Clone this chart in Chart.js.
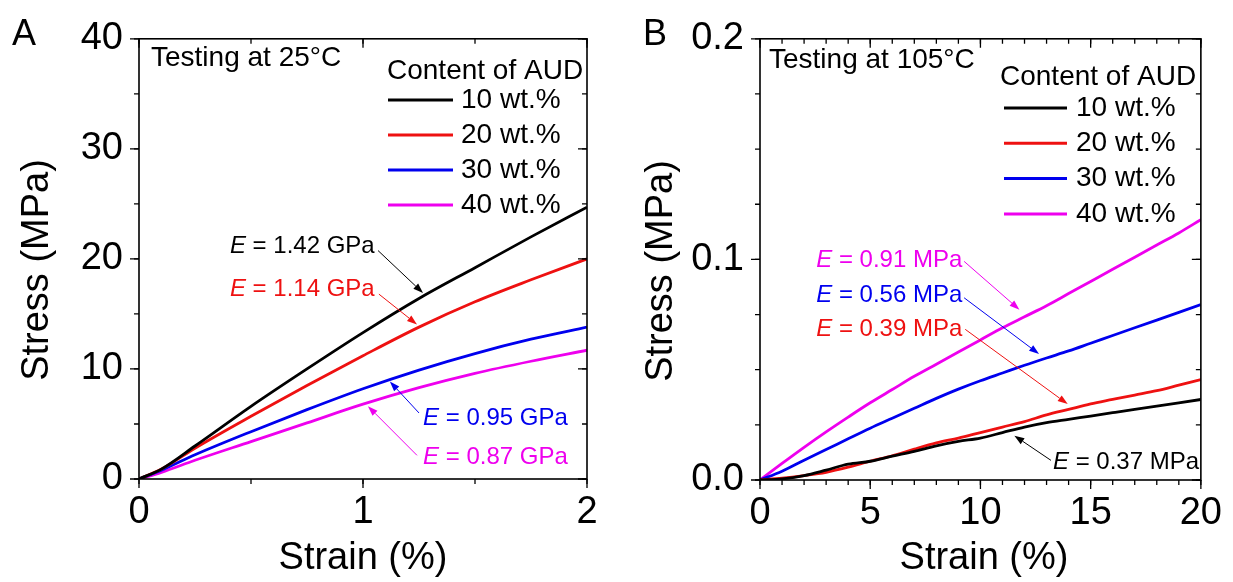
<!DOCTYPE html>
<html>
<head>
<meta charset="utf-8">
<script src="https://cdn.jsdelivr.net/npm/chart.js@4.4.1/dist/chart.umd.min.js"></script>
<style>
html, body { margin: 0; padding: 0; background: #fff; }
#wrap { position: relative; width: 1233px; height: 582px; }
.panel { position: absolute; top: 0; height: 582px; }
</style>
</head>
<body>
<div id="wrap">
  <div class="panel" style="left:0;width:616px"><canvas id="chartA"></canvas></div>
  <div class="panel" style="left:616px;width:617px"><canvas id="chartB"></canvas></div>
</div>
<script>
// ---- data ----
var contentLabels = ["10 wt.%", "20 wt.%", "30 wt.%", "40 wt.%"];
var colors = ["#000000", "#ee1111", "#0000ee", "#ee00ee"];

// panel A, testing at 25 C
var strainA = [0, 0.1, 0.25, 0.5, 0.75, 1.0, 1.25, 1.5, 1.75, 2.0];
var stressA10 = [0, 0.9, 3.0, 6.6, 10.0, 13.3, 16.4, 19.2, 22.0, 24.7];
var stressA20 = [0, 0.9, 2.8, 5.7, 8.5, 11.2, 13.8, 16.1, 18.1, 20.0];
var stressA30 = [0, 0.8, 2.2, 4.3, 6.3, 8.2, 9.9, 11.4, 12.7, 13.8];
var stressA40 = [0, 0.6, 1.7, 3.4, 5.1, 6.8, 8.3, 9.6, 10.7, 11.7];
var modulusA = ["1.42 GPa", "1.14 GPa", "0.95 GPa", "0.87 GPa"];

// panel B, testing at 105 C
var strainB = [0, 1, 2, 3, 4, 5, 6, 7, 8, 9, 10, 11, 12, 13, 14, 15, 16, 17, 18, 19, 20];
var stressB10 = [0, 0.0005, 0.002, 0.0045, 0.0072, 0.0085, 0.0108, 0.013, 0.0155, 0.0175, 0.019, 0.0215, 0.024, 0.026, 0.0275, 0.029, 0.0305, 0.032, 0.0335, 0.035, 0.0365];
var stressB20 = [0, 0.0008, 0.002, 0.0035, 0.0058, 0.0085, 0.011, 0.014, 0.0168, 0.019, 0.0215, 0.024, 0.0265, 0.0295, 0.032, 0.0345, 0.0365, 0.0385, 0.0405, 0.043, 0.0455];
var stressB30 = [0, 0.004, 0.009, 0.0138, 0.0187, 0.0235, 0.028, 0.0325, 0.037, 0.0412, 0.045, 0.0485, 0.052, 0.0553, 0.0585, 0.062, 0.0655, 0.069, 0.0725, 0.076, 0.0795];
var stressB40 = [0, 0.0075, 0.0148, 0.0218, 0.0285, 0.035, 0.041, 0.047, 0.0525, 0.058, 0.0635, 0.069, 0.074, 0.079, 0.0845, 0.090, 0.0955, 0.101, 0.1065, 0.112, 0.118];
var modulusB = ["0.37 MPa", "0.39 MPa", "0.56 MPa", "0.91 MPa"];

var FONT = '"Liberation Sans", Arial, sans-serif';

function makeSets(xs, series) {
  return series.map(function(ys, i) {
    return {
      label: contentLabels[i],
      data: xs.map(function(x, j) { return {x: x, y: ys[j]}; }),
      borderColor: colors[i],
      backgroundColor: colors[i],
      borderWidth: 2.8,
      pointRadius: 0,
      fill: false,
      cubicInterpolationMode: 'monotone'
    };
  });
}

function drawArrow(ctx, x1, y1, x2, y2, color) {
  var a = Math.atan2(y2 - y1, x2 - x1), L = 10, W = 3.5;
  var bx = x2 - L * Math.cos(a), by = y2 - L * Math.sin(a);
  ctx.strokeStyle = color;
  ctx.fillStyle = color;
  ctx.lineWidth = 1;
  ctx.beginPath(); ctx.moveTo(x1, y1); ctx.lineTo(bx, by); ctx.stroke();
  ctx.beginPath();
  ctx.moveTo(x2, y2);
  ctx.lineTo(bx + W * Math.sin(a), by - W * Math.cos(a));
  ctx.lineTo(bx - W * Math.sin(a), by + W * Math.cos(a));
  ctx.closePath();
  ctx.fill();
}

// frame, ticks, legend, labels and arrows
var decoPlugin = {
  id: 'deco',
  afterDraw: function(chart, args, o) {
    var ctx = chart.ctx, ca = chart.chartArea;
    var sx = chart.scales.x, sy = chart.scales.y;
    ctx.save();

    // ticks
    ctx.strokeStyle = '#000';
    ctx.lineWidth = 1.3;
    function tickSet(scale, step, len, horiz) {
      for (var v = scale.min; v <= scale.max + step / 1000; v += step) {
        var p = scale.getPixelForValue(v);
        ctx.beginPath();
        if (horiz) {
          ctx.moveTo(p, ca.bottom); ctx.lineTo(p, ca.bottom + len);
          ctx.moveTo(p, ca.top); ctx.lineTo(p, ca.top + len);
        } else {
          ctx.moveTo(ca.left, p); ctx.lineTo(ca.left - len, p);
          ctx.moveTo(ca.right, p); ctx.lineTo(ca.right - len, p);
        }
        ctx.stroke();
      }
    }
    tickSet(sx, o.xMinor, 5, true);
    tickSet(sx, o.xMajor, 9, true);
    tickSet(sy, o.yMinor, 5, false);
    tickSet(sy, o.yMajor, 9, false);

    // frame
    ctx.lineWidth = 1.6;
    ctx.strokeRect(ca.left, ca.top, ca.right - ca.left, ca.bottom - ca.top);

    // axis titles
    ctx.fillStyle = '#000';
    ctx.font = '38px ' + FONT;
    ctx.textAlign = 'center';
    ctx.textBaseline = 'middle';
    ctx.fillText(o.xTitle, o.xTitlePos[0], o.xTitlePos[1]);
    ctx.save();
    ctx.translate(o.yTitlePos[0], o.yTitlePos[1]);
    ctx.rotate(-Math.PI / 2);
    ctx.fillText(o.yTitle, 0, 0);
    ctx.restore();

    // panel letter
    ctx.font = '36px ' + FONT;
    ctx.textAlign = 'left';
    ctx.fillText(o.letter, o.letterPos[0], o.letterPos[1]);

    // condition text
    ctx.font = '28px ' + FONT;
    ctx.fillText(o.condition, o.condPos[0], o.condPos[1]);

    // legend
    var lg = o.legend;
    ctx.fillText('Content of AUD', lg.x, lg.y);
    chart.data.datasets.forEach(function(ds, i) {
      var ly = lg.y0 + i * lg.dy;
      ctx.strokeStyle = ds.borderColor;
      ctx.lineWidth = 3;
      ctx.beginPath(); ctx.moveTo(lg.x1, ly); ctx.lineTo(lg.x2, ly); ctx.stroke();
      ctx.fillStyle = '#000';
      ctx.font = '28px ' + FONT;
      ctx.fillText(ds.label, lg.tx, ly);
    });

    // modulus annotations (data coordinates)
    o.notes.forEach(function(n) {
      var col = chart.data.datasets[n.ds].borderColor;
      var tx = sx.getPixelForValue(n.at[0]), ty = sy.getPixelForValue(n.at[1]);
      ctx.fillStyle = col;
      ctx.textAlign = 'left';
      ctx.font = 'italic 24px ' + FONT;
      ctx.fillText('E', tx, ty);
      var w = ctx.measureText('E').width;
      ctx.font = '24px ' + FONT;
      ctx.fillText(' = ' + n.text, tx + w, ty);
      drawArrow(ctx,
        sx.getPixelForValue(n.from[0]), sy.getPixelForValue(n.from[1]),
        sx.getPixelForValue(n.to[0]), sy.getPixelForValue(n.to[1]), col);
    });

    ctx.restore();
  }
};

function makeChart(id, sets, xr, yr, yWidth, xHeight, padRight, deco, yFmt) {
  return new Chart(document.getElementById(id), {
    type: 'line',
    data: { datasets: sets },
    plugins: [decoPlugin],
    options: {
      responsive: true,
      maintainAspectRatio: false,
      animation: false,
      layout: { padding: { left: 0, top: 32, right: padRight, bottom: 0 } },
      plugins: { legend: { display: false }, tooltip: { enabled: false }, deco: deco },
      scales: {
        x: {
          type: 'linear', min: xr[0], max: xr[1],
          grid: { display: false, drawTicks: false },
          border: { display: false },
          ticks: { stepSize: xr[2], color: '#000', padding: 11, font: { size: 38, family: FONT }, maxRotation: 0 },
          afterFit: function(s) { s.height = xHeight; }
        },
        y: {
          type: 'linear', min: yr[0], max: yr[1],
          grid: { display: false, drawTicks: false },
          border: { display: false },
          ticks: { stepSize: yr[2], color: '#000', padding: 16, font: { size: 38, family: FONT }, callback: yFmt },
          afterFit: function(s) { s.width = yWidth; }
        }
      }
    }
  });
}

makeChart('chartA',
  makeSets(strainA, [stressA10, stressA20, stressA30, stressA40]),
  [0, 2, 1], [0, 40, 10], 139, 103, 29,
  {
    xMajor: 1, xMinor: 0.5, yMajor: 10, yMinor: 5,
    xTitle: 'Strain (%)', xTitlePos: [363, 559],
    yTitle: 'Stress (MPa)', yTitlePos: [38, 270],
    letter: 'A', letterPos: [12, 35],
    condition: 'Testing at 25°C', condPos: [151, 58],
    legend: { x: 387, y: 71, x1: 388, x2: 453, tx: 461, y0: 100, dy: 35 },
    notes: [
      { ds: 0, text: modulusA[0], at: [0.406, 21.1], from: [1.067, 20.76], to: [1.268, 16.9] },
      { ds: 1, text: modulusA[1], at: [0.406, 17.2], from: [1.071, 16.8], to: [1.241, 14.05] },
      { ds: 2, text: modulusA[2], at: [1.268, 5.55], from: [1.25, 6.0], to: [1.12, 8.86] },
      { ds: 3, text: modulusA[3], at: [1.268, 1.97], from: [1.241, 2.15], to: [1.022, 6.62] }
    ]
  },
  function(v) { return v; });

makeChart('chartB',
  makeSets(strainB, [stressB10, stressB20, stressB30, stressB40]),
  [0, 20, 5], [0, 0.2, 0.1], 144, 102, 26,
  {
    xMajor: 5, xMinor: 1, yMajor: 0.1, yMinor: 0.025,
    xTitle: 'Strain (%)', xTitlePos: [368, 559],
    yTitle: 'Stress (MPa)', yTitlePos: [46, 271],
    letter: 'B', letterPos: [27, 35],
    condition: 'Testing at 105°C', condPos: [153, 60],
    legend: { x: 384, y: 77, x1: 388, x2: 451, tx: 460, y0: 108, dy: 35.3 },
    notes: [
      { ds: 3, text: modulusB[3], at: [2.55, 0.0996], from: [9.26, 0.0991], to: [11.77, 0.0772] },
      { ds: 2, text: modulusB[2], at: [2.55, 0.0835], from: [9.26, 0.0826], to: [12.66, 0.0571] },
      { ds: 1, text: modulusB[1], at: [2.55, 0.0683], from: [9.31, 0.0683], to: [13.96, 0.0344] },
      { ds: 0, text: modulusB[0], at: [13.29, 0.008], from: [13.2, 0.0089], to: [11.54, 0.0201] }
    ]
  },
  function(v) { return Number(v).toFixed(1); });
</script>
</body>
</html>
